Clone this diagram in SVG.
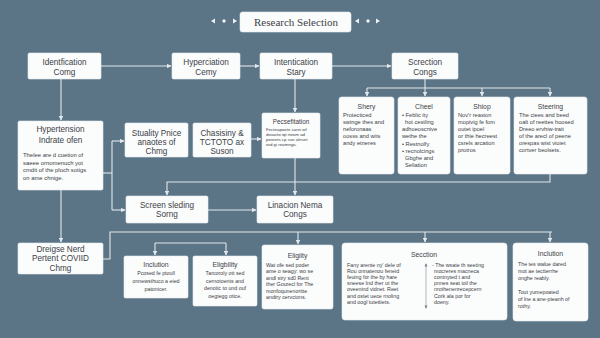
<svg xmlns="http://www.w3.org/2000/svg" width="600" height="338" viewBox="0 0 600 338">
<defs>
<style>
.bg{fill:#5b7486}
.box{fill:#fbfcfc;stroke:#e8edf0;stroke-width:0.6}
.ln{fill:none;stroke:#e2e8ec;stroke-width:1.1}
.t{font-family:"Liberation Sans","Open Sans",sans-serif;fill:#3b4147}
.h{font-size:8.2px;text-anchor:middle}
.st{font-size:6.8px;text-anchor:middle}
.b{font-size:5.3px}
.bt{font-size:5.7px}
.c{text-anchor:middle}
.dot{fill:#eef2f4}
</style>
<marker id="ah" viewBox="0 0 6 6" refX="5.5" refY="3" markerWidth="4.5" markerHeight="4.5" markerUnits="userSpaceOnUse" orient="auto">
<path d="M0,0 L6,3 L0,6 z" fill="#e2e8ec"/>
</marker>
</defs>
<rect class="bg" width="600" height="338"/>

<g id="title">
<path class="dot" d="M211,21 L215,18.5 L215,23.5 z"/>
<circle class="dot" cx="224" cy="21" r="1.7"/>
<path class="dot" d="M237,21 L233,18.5 L233,23.5 z"/>
<rect class="box" x="240" y="12" width="111" height="20" rx="2.5"/>
<text x="296" y="25.5" font-family="'Liberation Serif',serif" font-size="11" fill="#3b4147" text-anchor="middle">Research Selection</text>
<path class="dot" d="M355,21 L359,18.5 L359,23.5 z"/>
<circle class="dot" cx="368" cy="21" r="1.7"/>
<path class="dot" d="M380,21 L376,18.5 L376,23.5 z"/>
</g>

<g id="connectors">
<path class="ln" d="M101,66 H171" marker-end="url(#ah)"/>
<path class="ln" d="M240,66 H259" marker-end="url(#ah)"/>
<path class="ln" d="M332,66 H391" marker-end="url(#ah)"/>
<path class="ln" d="M425,79 V88"/>
<path class="ln" d="M367,88 H550"/>
<path class="ln" d="M367,88 V96" marker-end="url(#ah)"/>
<path class="ln" d="M425,88 V96" marker-end="url(#ah)"/>
<path class="ln" d="M482,88 V96" marker-end="url(#ah)"/>
<path class="ln" d="M550,88 V96" marker-end="url(#ah)"/>
<path class="ln" d="M61,79 V120" marker-end="url(#ah)"/>
<path class="ln" d="M295,79 V112" marker-end="url(#ah)"/>
<path class="ln" d="M103,173 H112"/>
<path class="ln" d="M112,141 V210"/>
<path class="ln" d="M112,141 H124" marker-end="url(#ah)"/>
<path class="ln" d="M112,210 H125" marker-end="url(#ah)"/>
<path class="ln" d="M251,139 H261" marker-end="url(#ah)"/>
<path class="ln" d="M295,158 V195" marker-end="url(#ah)"/>
<path class="ln" d="M550,174 V182 H167 V195" marker-end="url(#ah)"/>
<path class="ln" d="M208,210 H256" marker-end="url(#ah)"/>
<path class="ln" d="M61,190 V242" marker-end="url(#ah)"/>
<path class="ln" d="M103,259 H110 V232 H552"/>
<path class="ln" d="M298,232 V244" marker-end="url(#ah)"/>
<path class="ln" d="M425,232 V242" marker-end="url(#ah)"/>
<path class="ln" d="M550,232 V242" marker-end="url(#ah)"/>
<path class="ln" d="M155,243 H226"/>
<path class="ln" d="M155,243 V255" marker-end="url(#ah)"/>
<path class="ln" d="M226,243 V255" marker-end="url(#ah)"/>
</g>

<g id="identification">
<rect class="box" x="28" y="53" width="73" height="26" rx="1.5"/>
<text class="t h" x="64.5" y="65">Identfication</text>
<text class="t h" x="64.5" y="75">Comg</text>
</g>
<g id="hyperciation">
<rect class="box" x="172" y="53" width="68" height="26" rx="1.5"/>
<text class="t h" x="206" y="65">Hyperciation</text>
<text class="t h" x="206" y="75">Cemy</text>
</g>
<g id="intentication">
<rect class="box" x="260" y="53" width="72" height="26" rx="1.5"/>
<text class="t h" x="296" y="65">Intentication</text>
<text class="t h" x="296" y="75">Stary</text>
</g>
<g id="screction">
<rect class="box" x="392" y="53" width="66" height="26" rx="1.5"/>
<text class="t h" x="425" y="65">Screction</text>
<text class="t h" x="425" y="75">Congs</text>
</g>

<g id="shery">
<rect class="box" x="339" y="97" width="55" height="77" rx="2.5"/>
<text class="t st" x="366.5" y="108.5">Shery</text>
<text class="t bt" x="343" y="117">Protecticed</text>
<text class="t bt" x="343" y="124">swinge thes and</text>
<text class="t bt" x="343" y="131">neforonaas</text>
<text class="t bt" x="343" y="138">oosss and wits</text>
<text class="t bt" x="343" y="145">andy etneres</text>
</g>
<g id="cheel">
<rect class="box" x="398" y="97" width="52" height="77" rx="2.5"/>
<text class="t st" x="424" y="108.5">Cheel</text>
<text class="t bt" x="402" y="117">• Feblic ity</text>
<text class="t bt" x="405" y="124">hot cestling</text>
<text class="t bt" x="402" y="131">adhoeoscnive</text>
<text class="t bt" x="402" y="138">wethe the</text>
<text class="t bt" x="402" y="146">• Restnolfy</text>
<text class="t bt" x="402" y="153">• recnolcings</text>
<text class="t bt" x="405" y="160">Gbghe and</text>
<text class="t bt" x="405" y="167">Seliation</text>
</g>
<g id="shop">
<rect class="box" x="454" y="97" width="56" height="77" rx="2.5"/>
<text class="t st" x="482" y="108.5">Shiop</text>
<text class="t bt" x="458" y="117">Nov'r reasion</text>
<text class="t bt" x="458" y="124">mopivig fe fom</text>
<text class="t bt" x="458" y="131">outet ipoel</text>
<text class="t bt" x="458" y="138">or thie hecreest</text>
<text class="t bt" x="458" y="145">csrels arcation</text>
<text class="t bt" x="458" y="152">protros</text>
</g>
<g id="steering">
<rect class="box" x="514" y="97" width="73" height="77" rx="2.5"/>
<text class="t st" x="550.5" y="108.5">Steering</text>
<text class="t bt" x="519" y="117">The ciees and beed</text>
<text class="t bt" x="519" y="124">oalt of reettes hoosed</text>
<text class="t bt" x="519" y="131">Dreeo ervhiw-trait</text>
<text class="t bt" x="519" y="138">of the arecl of peene</text>
<text class="t bt" x="519" y="145">orespas wist vioiet</text>
<text class="t bt" x="519" y="152">cortver beolsets.</text>
</g>

<g id="hypertension">
<rect class="box" x="18" y="121" width="85" height="69" rx="1.5"/>
<text class="t h" x="60.5" y="132">Hypertension</text>
<text class="t h" x="60.5" y="143">Indrate ofen</text>
<text class="t" font-size="5.9" x="23" y="157">Thelee are d cuetion of</text>
<text class="t" font-size="5.9" x="23" y="164.5">saeee ornomenuch yot</text>
<text class="t" font-size="5.9" x="23" y="172">cmdit of the ploch sotigs</text>
<text class="t" font-size="5.9" x="23" y="179.5">on ame chnige.</text>
</g>
<g id="stuality">
<rect class="box" x="125" y="123" width="63" height="34" rx="1.5"/>
<text class="t h" x="156.5" y="135.5" font-size="7.4">Stuality Pnice</text>
<text class="t h" x="156.5" y="144.5" font-size="7.4">anaotes of</text>
<text class="t h" x="156.5" y="153.5" font-size="7.4">Chmg</text>
</g>
<g id="chasisiny">
<rect class="box" x="193" y="123" width="58" height="34" rx="1.5"/>
<text class="t h" x="222" y="135.5" font-size="7.4">Chasisiny &amp;</text>
<text class="t h" x="222" y="144.5" font-size="7.4">TCTOTO ax</text>
<text class="t h" x="222" y="153.5" font-size="7.4">Suson</text>
</g>
<g id="pecsefitation">
<rect class="box" x="262" y="113" width="58" height="45" rx="1.5"/>
<text class="t c" font-size="6.4" x="291" y="123.5">Pecsefitation</text>
<text class="t" font-size="4.4" x="266" y="130.5">Fecteapaete carei wf</text>
<text class="t" font-size="4.4" x="266" y="135.7">dovarto iqt rteom ad</text>
<text class="t" font-size="4.4" x="266" y="140.9">peorets cp sve aleset</text>
<text class="t" font-size="4.4" x="266" y="146.1">ord gi reamnga.</text>
</g>
<g id="screen-sleding">
<rect class="box" x="126" y="196" width="82" height="27" rx="1.5"/>
<text class="t h" x="167" y="207.5" font-size="7.6">Screen sleding</text>
<text class="t h" x="167" y="217" font-size="7.6">Sorng</text>
</g>
<g id="linacion">
<rect class="box" x="257" y="196" width="76" height="27" rx="1.5"/>
<text class="t h" x="295" y="207.5" font-size="7.6">Linacion Nema</text>
<text class="t h" x="295" y="217" font-size="7.6">Congs</text>
</g>

<g id="dreigse">
<rect class="box" x="18" y="243" width="85" height="31" rx="1.5"/>
<text class="t h" x="60.5" y="251.5">Dreigse Nerd</text>
<text class="t h" x="60.5" y="261.3">Pertent COVIID</text>
<text class="t h" x="60.5" y="271">Chmg</text>
</g>
<g id="inclution-left">
<rect class="box" x="124" y="256" width="64" height="42" rx="1.5"/>
<text class="t st" x="156" y="266.5">Inclution</text>
<text class="t b c" x="156" y="275">Pcosed fe ptoull</text>
<text class="t b c" x="156" y="283">onnewsthuco a eied</text>
<text class="t b c" x="156" y="291">patonicer.</text>
</g>
<g id="eligbility">
<rect class="box" x="193" y="256" width="64" height="50" rx="1.5"/>
<text class="t st" x="225" y="266.5">Eligbility</text>
<text class="t b c" x="225" y="275">Tarcoroly ott sed</text>
<text class="t b c" x="225" y="282.5">cernotoents and</text>
<text class="t b c" x="225" y="290">denotic to und ouf</text>
<text class="t b c" x="225" y="297.5">oegtegg otice.</text>
</g>
<g id="eligiity">
<rect class="box" x="262" y="245" width="71" height="64" rx="2"/>
<text class="t st" x="297.5" y="257.5">Eligiity</text>
<text class="t b" x="266" y="266.5">Wat ofe sed poder</text>
<text class="t b" x="266" y="273">ame o seagy: wo se</text>
<text class="t b" x="266" y="279.5">andl stry sd0 Rent</text>
<text class="t b" x="266" y="286">ther Gourecl for The</text>
<text class="t b" x="266" y="292.5">monfoqunenoritte</text>
<text class="t b" x="266" y="299">andtry cervcions.</text>
</g>
<g id="secction">
<rect class="box" x="342" y="243" width="165" height="77" rx="3"/>
<text class="t st" x="424" y="256.5" font-size="7.4">Secction</text>
<text class="t b" x="347" y="266.5">Fany arente ny' dele of</text>
<text class="t b" x="347" y="272.7">Rou onnatenou feneid</text>
<text class="t b" x="347" y="278.9">feuing for the by hare</text>
<text class="t b" x="347" y="285.1">sneese Ind ther ut the</text>
<text class="t b" x="347" y="291.3">oveenind vidnet. Reet</text>
<text class="t b" x="347" y="297.5">and ostet uece rnoling</text>
<text class="t b" x="347" y="303.7">and oogl tutettiets.</text>
<path d="M426,264 V308" stroke="#7a8894" stroke-width="0.6" fill="none"/>
<path d="M424.5,266.5 L426,263 L427.5,266.5 z M424.5,305.5 L426,309 L427.5,305.5 z" fill="#7a8894"/>
<text class="t b" x="432" y="266.5">- The wsate th seeting</text>
<text class="t b" x="434" y="272.7">mocreres macneca</text>
<text class="t b" x="434" y="278.9">contnyted t and</text>
<text class="t b" x="434" y="285.1">pnnes seat ioil the</text>
<text class="t b" x="434" y="291.3">nrothenenrecepcern</text>
<text class="t b" x="434" y="297.5">Cork ala por for</text>
<text class="t b" x="434" y="303.7">doeny.</text>
</g>
<g id="inclution-right">
<rect class="box" x="513" y="243" width="75" height="78" rx="3"/>
<text class="t st" x="550.5" y="256" font-size="7.2">Inclution</text>
<text class="t b" x="518" y="266">The tes walue dared</text>
<text class="t b" x="518" y="273">mot ae tectterrhe</text>
<text class="t b" x="518" y="280">onghe reably.</text>
<text class="t b" x="518" y="294">Tout yumepoated</text>
<text class="t b" x="518" y="301">of lne a ane-pteanh of</text>
<text class="t b" x="518" y="308">rothy.</text>
</g>
</svg>
